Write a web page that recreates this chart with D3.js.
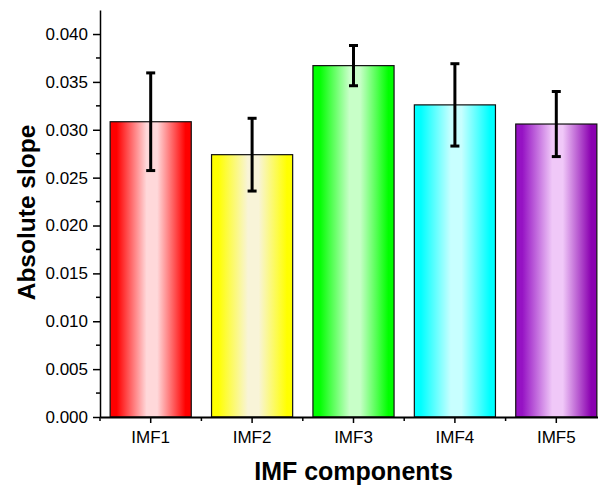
<!DOCTYPE html>
<html>
<head>
<meta charset="utf-8">
<script src="https://cdn.jsdelivr.net/npm/d3@7"></script>
<style>
  body { margin: 0; background: #fff; }
  text { font-family: Arial, "Liberation Sans", sans-serif; }
</style>
</head>
<body>
<div id="chart"></div>
<script>
// data
var categories = ["IMF1", "IMF2", "IMF3", "IMF4", "IMF5"];
var slopes = [0.03084, 0.0274, 0.0367, 0.0326, 0.0306];
var errors = [0.0051, 0.0038, 0.0021, 0.0043, 0.0034];
var yTicks = [0, 0.005, 0.01, 0.015, 0.02, 0.025, 0.03, 0.035, 0.04];

// bar colours: edge colour and light centre
var edgeColors = ["#ff0000", "#ffff00", "#00ff00", "#00ffff", "#9612c4"];
var midColors = ["#ffd8da", "#f8f4d8", "#c8ffc8", "#c8ffff", "#f0c8f8"];
var rightColors = ["#ff0000", "#ffff00", "#00ff00", "#00ffff", "#8a00b0"];

var svgWidth = 598, svgHeight = 487;
var margin = { top: 10, right: -9, bottom: 70, left: 100 };
var width = svgWidth - margin.left - margin.right;
var height = 417 - margin.top;

var svg = d3.select("#chart").append("svg")
  .attr("width", svgWidth)
  .attr("height", svgHeight);

// gradients
var defs = svg.append("defs");
categories.forEach(function(c, i) {
  var g = defs.append("linearGradient")
    .attr("id", "grad" + i)
    .attr("x1", "0%").attr("x2", "100%")
    .attr("y1", "0%").attr("y2", "0%");
  g.append("stop").attr("offset", "0%").attr("stop-color", edgeColors[i]);
  g.append("stop").attr("offset", "8%").attr("stop-color", edgeColors[i]);
  g.append("stop").attr("offset", "45%").attr("stop-color", midColors[i]);
  g.append("stop").attr("offset", "58%").attr("stop-color", midColors[i]);
  g.append("stop").attr("offset", "93%").attr("stop-color", rightColors[i]);
  g.append("stop").attr("offset", "100%").attr("stop-color", rightColors[i]);
});

var chartGroup = svg.append("g")
  .attr("transform", `translate(${margin.left}, ${margin.top})`);

var xScale = d3.scaleBand()
  .domain(categories)
  .range([0, width])
  .paddingInner(0.2)
  .paddingOuter(0.1);

var yScale = d3.scaleLinear()
  .domain([0, 0.04251])
  .range([height, 0]);

// bars
chartGroup.selectAll("rect.bar")
  .data(slopes)
  .enter()
  .append("rect")
  .attr("class", "bar")
  .attr("x", (d, i) => xScale(categories[i]))
  .attr("y", d => yScale(d))
  .attr("width", xScale.bandwidth())
  .attr("height", d => height - yScale(d))
  .attr("fill", (d, i) => `url(#grad${i})`)
  .attr("stroke", "#111")
  .attr("stroke-width", 1.2);

// error bars
var errGroup = chartGroup.append("g");
slopes.forEach(function(d, i) {
  var cx = xScale(categories[i]) + xScale.bandwidth() / 2;
  var top = yScale(d + errors[i]);
  var bot = yScale(d - errors[i]);
  errGroup.append("line")
    .attr("x1", cx).attr("x2", cx)
    .attr("y1", top).attr("y2", bot)
    .attr("stroke", "#000").attr("stroke-width", 3);
  [top, bot].forEach(function(y) {
    errGroup.append("line")
      .attr("x1", cx - 4.5).attr("x2", cx + 4.5)
      .attr("y1", y).attr("y2", y)
      .attr("stroke", "#000").attr("stroke-width", 3);
  });
});

// y axis
var leftAxis = d3.axisLeft(yScale)
  .tickValues(yTicks)
  .tickFormat(d3.format(".3f"))
  .tickSize(7)
  .tickSizeOuter(0);
var yAxis = chartGroup.append("g").call(leftAxis);
yAxis.select(".domain").attr("stroke-width", 1.5);
yAxis.selectAll(".tick line").attr("stroke-width", 1.5);
yAxis.selectAll("text").style("font-size", "17px").attr("fill", "#000").attr("x", -12);

// y minor ticks
var yMinor = d3.range(0.0025, 0.0425, 0.005);
chartGroup.append("g").selectAll("line")
  .data(yMinor)
  .enter()
  .append("line")
  .attr("x1", -4).attr("x2", 0)
  .attr("y1", d => yScale(d)).attr("y2", d => yScale(d))
  .attr("stroke", "#000").attr("stroke-width", 1.5);

// x axis
var bottomAxis = d3.axisBottom(xScale).tickSize(6).tickSizeOuter(0);
var xAxis = chartGroup.append("g")
  .attr("transform", `translate(0, ${height})`)
  .call(bottomAxis);
xAxis.select(".domain").attr("stroke-width", 2);
xAxis.selectAll(".tick line").attr("stroke-width", 1.5);
xAxis.selectAll("text").style("font-size", "17px").attr("fill", "#000").attr("y", 14);

// x minor ticks at band edges
var step = xScale.step();
var xMinor = d3.range(0, categories.length + 1).map(i => xScale(categories[0]) - step * xScale.paddingInner() / 2 + i * step);
xAxis.append("g").selectAll("line")
  .data(xMinor)
  .enter()
  .append("line")
  .attr("x1", d => d).attr("x2", d => d)
  .attr("y1", 0).attr("y2", 4)
  .attr("stroke", "#000").attr("stroke-width", 1.5);

// axis titles
svg.append("text")
  .attr("x", 353.5)
  .attr("y", 480)
  .attr("text-anchor", "middle")
  .style("font-size", "25px")
  .style("font-weight", "bold")
  .text("IMF components");

svg.append("text")
  .attr("transform", "translate(35, 212.5) rotate(-90)")
  .attr("text-anchor", "middle")
  .style("font-size", "24.5px")
  .style("font-weight", "bold")
  .text("Absolute slope");
</script>
</body>
</html>
